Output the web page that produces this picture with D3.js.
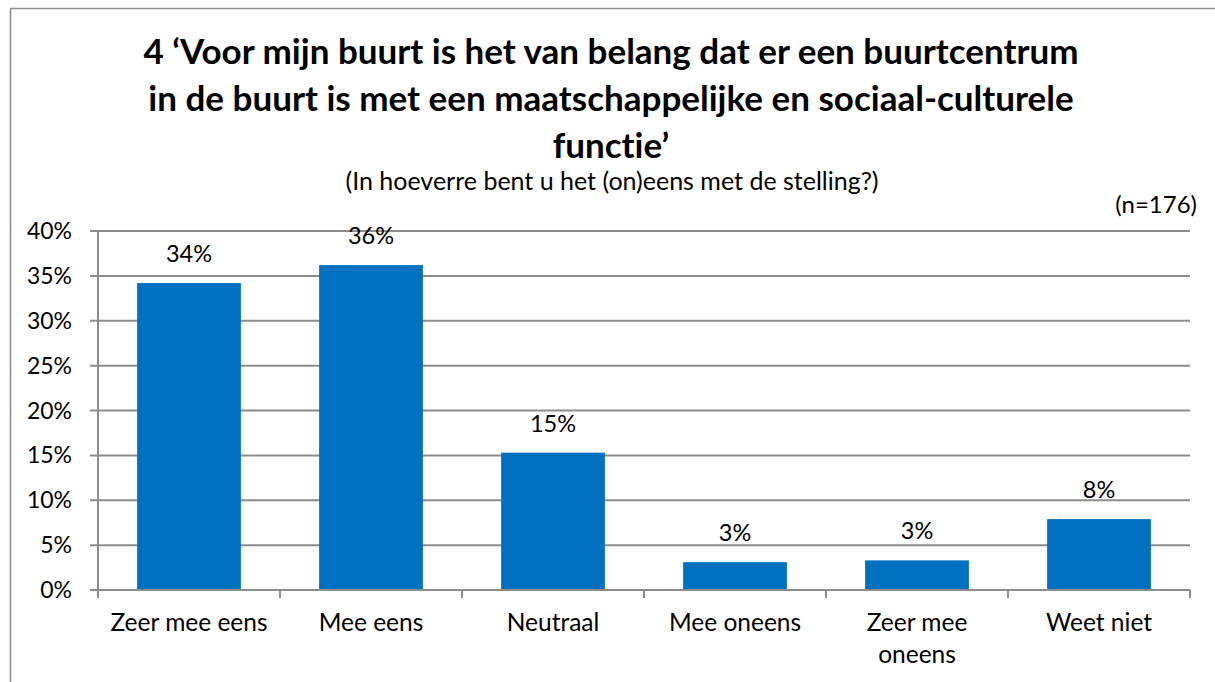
<!DOCTYPE html>
<html>
<head>
<meta charset="utf-8">
<script src="https://cdn.jsdelivr.net/npm/d3@7"></script>
<style>
  body { margin: 0; background: #fff; }
  text { font-family: Lato, "Open Sans", sans-serif; fill: #000; font-variant-ligatures: none; }
</style>
</head>
<body>
<div id="chart"></div>
<script>
// data
var categories = [["Zeer mee eens"], ["Mee eens"], ["Neutraal"], ["Mee oneens"], ["Zeer mee", "oneens"], ["Weet niet"]];
var values = [34.2, 36.2, 15.3, 3.1, 3.3, 7.9];
var valueLabels = ["34%", "36%", "15%", "3%", "3%", "8%"];
var yTicks = [0, 5, 10, 15, 20, 25, 30, 35, 40];
var titleLines = ["4 \u2018Voor mijn buurt is het van belang dat er een buurtcentrum",
    "in de buurt is met een maatschappelijke en sociaal-culturele",
    "functie\u2019"];
var subtitle = "(In hoeverre bent u het (on)eens met de stelling?)";
var note = "(n=176)";

var W = 1215, H = 682;
var margin = {top: 231, right: 25, bottom: 92, left: 98},
    width = W - margin.left - margin.right,
    height = H - margin.top - margin.bottom;

var root = d3.select("#chart").append("svg")
    .attr("width", W)
    .attr("height", H);

// outer chart border (only left/top visible in the crop)
root.append("rect")
    .attr("x", 10.5).attr("y", 8.5)
    .attr("width", W + 20).attr("height", H + 20)
    .attr("fill", "none")
    .attr("stroke", "#8c8c8c")
    .attr("stroke-width", 1.5);

// title
root.selectAll(".title")
    .data(titleLines)
    .enter().append("text")
    .attr("class", "title")
    .attr("x", 611)
    .attr("y", function (d, i) { return 64 + i * 47; })
    .attr("text-anchor", "middle")
    .style("font-weight", "bold")
    .style("font-size", "35px")
    .text(function (d) { return d; });

root.append("text")
    .attr("x", 612)
    .attr("y", 190)
    .attr("text-anchor", "middle")
    .style("font-size", "25px")
    .text(subtitle);

root.append("text")
    .attr("x", 1197)
    .attr("y", 213)
    .attr("text-anchor", "end")
    .style("font-size", "24px")
    .text(note);

var svg = root.append("g")
    .attr("transform", "translate(" + margin.left + "," + margin.top + ")");

var x = d3.scaleBand()
    .domain(d3.range(categories.length))
    .range([0, width])
    .paddingInner(0.43)
    .paddingOuter(0.215);

var y = d3.scaleLinear()
    .domain([0, 40])
    .range([height, 0]);

// gridlines
svg.selectAll(".grid")
    .data(yTicks)
    .enter().append("line")
    .attr("class", "grid")
    .attr("x1", -8).attr("x2", width)
    .attr("y1", function (d) { return y(d); })
    .attr("y2", function (d) { return y(d); })
    .attr("stroke", "#8c8c8c")
    .attr("stroke-width", 2);

// y axis line
svg.append("line")
    .attr("x1", 0).attr("x2", 0)
    .attr("y1", 0).attr("y2", height)
    .attr("stroke", "#8c8c8c")
    .attr("stroke-width", 2);

svg.selectAll(".ylab")
    .data(yTicks)
    .enter().append("text")
    .attr("class", "ylab")
    .attr("x", -26)
    .attr("y", function (d) { return y(d); })
    .attr("dy", "0.35em")
    .attr("text-anchor", "end")
    .style("font-size", "23px")
    .text(function (d) { return d + "%"; });

// bars
svg.selectAll(".bar")
    .data(values)
    .enter().append("rect")
    .attr("class", "bar")
    .attr("x", function (d, i) { return x(i); })
    .attr("width", x.bandwidth())
    .attr("y", function (d) { return y(d); })
    .attr("height", function (d) { return height - y(d); })
    .attr("fill", "#0070c0");

svg.selectAll(".vlab")
    .data(values)
    .enter().append("text")
    .attr("class", "vlab")
    .attr("x", function (d, i) { return x(i) + x.bandwidth() / 2; })
    .attr("y", function (d) { return y(d) - 21; })
    .attr("text-anchor", "middle")
    .style("font-size", "23.5px")
    .text(function (d, i) { return valueLabels[i]; });

// x axis baseline and ticks at category boundaries
svg.append("line")
    .attr("x1", 0).attr("x2", width)
    .attr("y1", height).attr("y2", height)
    .attr("stroke", "#8c8c8c")
    .attr("stroke-width", 2);

var step = x.step();
svg.selectAll(".xtick")
    .data(d3.range(categories.length + 1))
    .enter().append("line")
    .attr("class", "xtick")
    .attr("x1", function (d) { return d * step; })
    .attr("x2", function (d) { return d * step; })
    .attr("y1", height).attr("y2", height + 8)
    .attr("stroke", "#8c8c8c")
    .attr("stroke-width", 2);

var xl = svg.selectAll(".xlab")
    .data(categories)
    .enter().append("text")
    .attr("class", "xlab")
    .attr("text-anchor", "middle")
    .style("font-size", "24.5px")
    .attr("transform", function (d, i) {
        return "translate(" + (x(i) + x.bandwidth() / 2) + "," + (height + 41) + ")";
    });

xl.selectAll("tspan")
    .data(function (d) { return d; })
    .enter().append("tspan")
    .attr("x", 0)
    .attr("y", function (d, i) { return i * 32; })
    .text(function (d) { return d; });
</script>
</body>
</html>
